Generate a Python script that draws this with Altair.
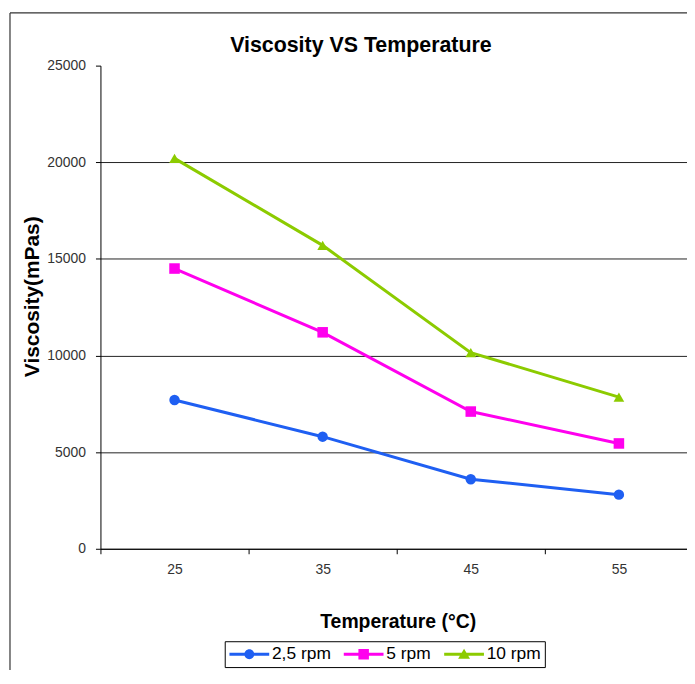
import altair as alt
import pandas as pd

temps = [25, 35, 45, 55]
series = ["2,5 rpm", "5 rpm", "10 rpm"]
v_25 = [7700, 5800, 3600, 2800]
v_5 = [14500, 11200, 7100, 5450]
v_10 = [20200, 15700, 10150, 7850]
colors = ["#1f5ff2", "#ff00ee", "#8ccb00"]
y_ticks = [0, 5000, 10000, 15000, 20000, 25000]
x_ticks = [20, 25, 30, 35, 40, 45, 50, 55]

rows = []
for name, vals in zip(series, [v_25, v_5, v_10]):
    for t, v in zip(temps, vals):
        rows.append({"temp": t, "v": v, "series": name})
df = pd.DataFrame(rows)

FONT = "Liberation Sans"
W, H = 590, 486
PAD_L, PAD_T = 93, 56
TOTAL_H = 664

x_enc = alt.X(
    "temp:Q",
    scale=alt.Scale(domain=[20, 20 + W / 14.9], nice=False, zero=False),
    axis=alt.Axis(
        values=x_ticks,
        labelExpr="datum.value % 10 == 5 ? datum.label : ''",
        tickOpacity={"condition": {"test": "datum.value % 10 == 5", "value": 0}, "value": 1},
        grid=False,
        domainColor="black",
        tickColor="black",
        tickSize=5,
        labelFont=FONT,
        labelFontSize=14,
        labelColor="#333333",
        labelPadding=9,
        title="Temperature (°C)",
        titleFont=FONT,
        titleFontSize=19.5,
        titleFontWeight="bold",
        titleColor="black",
        titleX=W / 2 + 4,
        titleY=73,
        titleBaseline="middle",
        titleAlign="center",
    ),
)
y_enc = alt.Y(
    "v:Q",
    scale=alt.Scale(domain=[0, 25000], nice=False),
    axis=alt.Axis(
        values=y_ticks,
        format="d",
        grid=True,
        gridColor="#222222",
        gridWidth=1,
        gridOpacity={"condition": {"test": "datum.value >= 25000", "value": 0}, "value": 1},
        domainColor="black",
        tickColor="black",
        tickSize=5,
        labelFont=FONT,
        labelFontSize=14,
        labelColor="#333333",
        labelPadding=10,
        title="Viscosity(mPas)",
        titleFont=FONT,
        titleFontSize=21,
        titleFontWeight="bold",
        titleColor="black",
        titleX=-68,
        titleY=232,
        titleAngle=-90,
        titleBaseline="middle",
        titleAlign="center",
    ),
)

cscale = alt.Scale(domain=series, range=colors)

lines = alt.Chart(df).mark_line(strokeWidth=3).encode(
    x=x_enc, y=y_enc,
    color=alt.Color("series:N", scale=cscale, legend=None),
    detail="series:N",
)

points = alt.Chart(df).mark_point(filled=True, opacity=1).encode(
    x=x_enc, y=y_enc,
    color=alt.Color("series:N", scale=cscale, legend=None),
    shape=alt.Shape("series:N", scale=alt.Scale(domain=series, range=["circle", "square", "triangle-up"]), legend=None),
    size=alt.Size("series:N", scale=alt.Scale(domain=series, range=[110, 115, 150]), legend=None),
)

# legend symbols: a short line with the marker on it (unit = 8px)
legend_paths = [
    "M-2.5,-0.19H2.5V0.19H-2.5Z M0.62,0A0.62,0.62,0,1,1,-0.62,0A0.62,0.62,0,1,1,0.62,0Z",
    "M-2.5,-0.19H2.5V0.19H-2.5Z M-0.66,-0.66H0.66V0.66H-0.66Z",
    "M-2.5,-0.19H2.5V0.19H-2.5Z M0,-0.7L0.75,0.55H-0.75Z",
]
leg = alt.Legend(
    title=None, orient="none", legendX=125, legendY=579, direction="horizontal",
    strokeColor="black", fillColor="white", padding=4,
    labelFont=FONT, labelFontSize=17.5, labelColor="black", labelOffset=14,
    symbolSize=256, symbolOffset=12, symbolStrokeWidth=0, symbolOpacity=1, columnPadding=12,
)
legend_layer = alt.Chart(df).mark_point(filled=True, opacity=1).encode(
    x=x_enc, y=y_enc,
    color=alt.Color("series:N", scale=cscale, legend=leg),
    shape=alt.Shape("series:N", scale=alt.Scale(domain=series, range=legend_paths), legend=leg),
).transform_filter("datum.v < 0")

frame_df = pd.DataFrame({"k": [0]})
frame_left = alt.Chart(frame_df).mark_rule(color="#333333", strokeWidth=1.2).encode(
    x=alt.value(-91), y=alt.value(-53), y2=alt.value(TOTAL_H - PAD_T)
)
frame_top = alt.Chart(frame_df).mark_rule(color="#333333", strokeWidth=1.2).encode(
    x=alt.value(-91), x2=alt.value(W), y=alt.value(-53)
)

chart = alt.layer(frame_left, frame_top, lines, points, legend_layer).resolve_scale(
    color="independent", shape="independent"
).properties(
    width=W, height=H,
    autosize=alt.AutoSizeParams(type="none"),
    padding={"left": PAD_L, "top": PAD_T, "right": 0, "bottom": TOTAL_H - PAD_T - H},
    title=alt.TitleParams(
        "Viscosity VS Temperature", font=FONT, fontSize=21.5, fontWeight="bold",
        color="black", anchor="middle", dx=-33, dy=48, offset=4,
    ),
    background="white",
).configure_view(stroke=None)

chart.save("out.html", embed_options={"renderer": "svg", "actions": False})
